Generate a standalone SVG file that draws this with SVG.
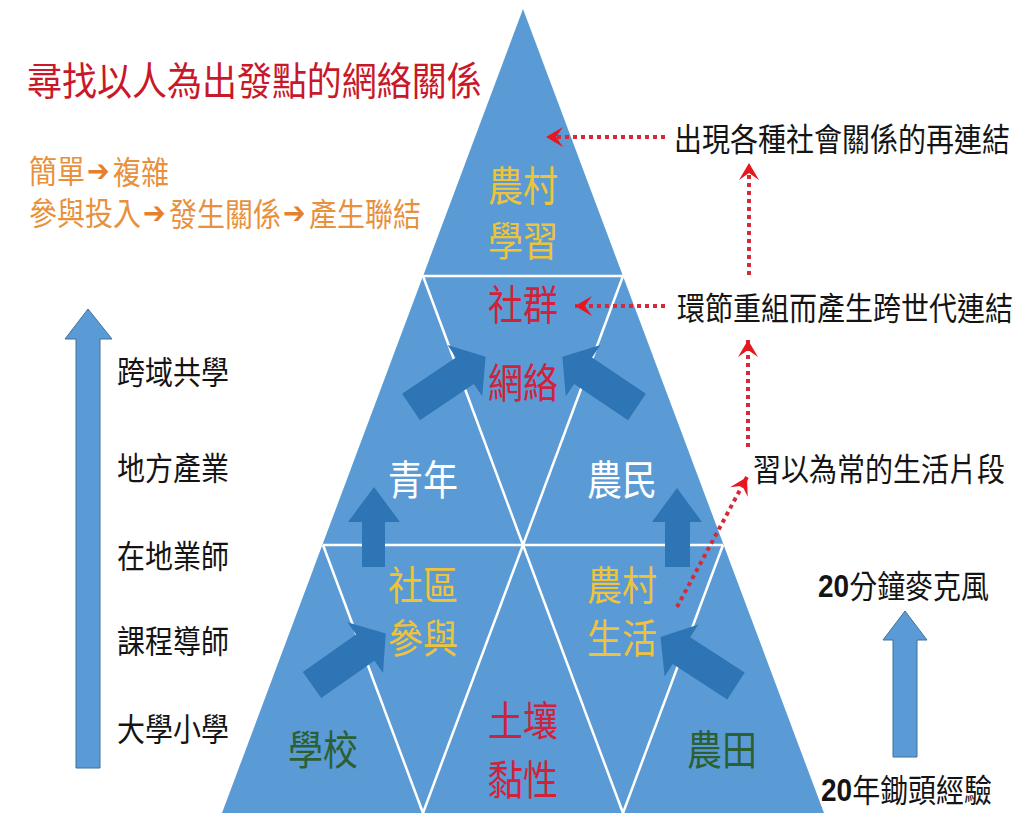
<svg xmlns="http://www.w3.org/2000/svg" xmlns:xlink="http://www.w3.org/1999/xlink" width="1033" height="814" viewBox="0 0 1033 814">
<style>
  text{font-family:"Noto Sans CJK TC","Noto Sans CJK SC",sans-serif;dominant-baseline:central}
  .pt{font-size:35px;text-anchor:middle}
  .lab{font-size:28px;fill:#141414}
  .y{fill:#eec33c}
  .r{fill:#d2213a}
  .w{fill:#ffffff}
  .g{fill:#2c5f32}
  .grid{stroke:#ffffff;stroke-width:2.5;fill:none}
  .blk{fill:#2e75b6}
  .dot{stroke:#d42a3a;stroke-width:4;stroke-dasharray:4 4;fill:none;marker-end:url(#ah)}
  .big{fill:#5b9bd5;stroke:#41719c;stroke-width:1}
  .num{font-family:"Liberation Sans",sans-serif;font-weight:bold}
  .arw{font-family:"DejaVu Sans",sans-serif;fill:#e5802e;font-size:27px}
</style>
<defs>
  <marker id="ah" markerUnits="userSpaceOnUse" markerWidth="24" markerHeight="24" viewBox="-20 -12 24 24" refX="0" refY="0" orient="auto">
    <path d="M0,0 L-17,-10 L-10,0 L-17,10 Z" fill="#e8161e"/>
  </marker>
  <path id="blockArrow" d="M0,-16 H65 V-31 L90,0 L65,31 V16 H0 Z"/>
</defs>
<rect width="1033" height="814" fill="#ffffff"/>

<!-- title and notes -->
<g id="title">
  <text transform="translate(27,78) scale(1,1.12)" font-size="35" fill="#c8182a">尋找以人為出發點的網絡關係</text>
</g>
<g id="notes" font-size="28" fill="#e8903c">
  <text transform="translate(29,170) scale(1,1.12)">簡單<tspan class="arw" x="58">➔</tspan><tspan x="84">複雜</tspan></text>
  <text transform="translate(29,212) scale(1,1.12)">參與投入<tspan class="arw" x="114">➔</tspan><tspan x="140">發生關係</tspan><tspan class="arw" x="254">➔</tspan><tspan x="280">產生聯結</tspan></text>
</g>

<!-- pyramid -->
<g id="pyramid">
  <polygon points="523,9 222,813 824,813" fill="#5b9bd5"/>
  <line class="grid" x1="423" y1="276" x2="623" y2="276"/>
  <line class="grid" x1="323" y1="545" x2="723" y2="545"/>
  <line class="grid" x1="423" y1="276" x2="523" y2="545"/>
  <line class="grid" x1="623" y1="276" x2="523" y2="545"/>
  <line class="grid" x1="323" y1="545" x2="423" y2="813"/>
  <line class="grid" x1="523" y1="545" x2="423" y2="813"/>
  <line class="grid" x1="523" y1="545" x2="623" y2="813"/>
  <line class="grid" x1="723" y1="545" x2="623" y2="813"/>
</g>

<!-- connectors -->
<g id="connectors">
  <use xlink:href="#blockArrow" class="blk" transform="translate(312,685) rotate(-35)"/>
  <use xlink:href="#blockArrow" class="blk" transform="translate(411,407) rotate(-34)"/>
  <use xlink:href="#blockArrow" class="blk" transform="translate(637,407) scale(-1,1) rotate(-34)"/>
  <use xlink:href="#blockArrow" class="blk" transform="translate(736,686) scale(-1,1) rotate(-33)"/>
  <polygon class="blk" points="362,567 362,522 348,522 374,487 400,522 385,522 385,567"/>
  <polygon class="blk" points="665,567 665,522 652,522 677,488 702,522 690,522 690,567"/>
  <line class="dot" x1="665" y1="137" x2="546" y2="137"/>
  <line class="dot" x1="749" y1="275" x2="749" y2="163"/>
  <line class="dot" x1="665" y1="306" x2="575" y2="306"/>
  <line class="dot" x1="748" y1="447" x2="748" y2="340"/>
  <line class="dot" x1="677" y1="607" x2="747" y2="477"/>
</g>

<!-- pyramid nodes -->
<g id="node-rural-learning"><text class="pt y" transform="translate(523,183) scale(1,1.16)">農村</text><text class="pt y" transform="translate(523,238) scale(1,1.16)">學習</text></g>
<g id="node-community-network"><text class="pt r" transform="translate(523,302) scale(1,1.18)">社群</text><text class="pt r" transform="translate(523,380) scale(1,1.18)">網絡</text></g>
<g id="node-youth"><text class="pt w" transform="translate(423,477) scale(1,1.18)">青年</text></g>
<g id="node-farmer"><text class="pt w" transform="translate(622,477) scale(1,1.18)">農民</text></g>
<g id="node-community-participation"><text class="pt y" transform="translate(423,583) scale(1,1.13)">社區</text><text class="pt y" transform="translate(423,636) scale(1,1.13)">參與</text></g>
<g id="node-rural-life"><text class="pt y" transform="translate(622,583) scale(1,1.13)">農村</text><text class="pt y" transform="translate(622,636) scale(1,1.13)">生活</text></g>
<g id="node-school"><text class="pt g" transform="translate(323,747) scale(1,1.18)">學校</text></g>
<g id="node-soil"><text class="pt r" transform="translate(523,718) scale(1,1.18)">土壤</text><text class="pt r" transform="translate(523,777) scale(1,1.18)">黏性</text></g>
<g id="node-farmland"><text class="pt g" transform="translate(722,747) scale(1,1.18)">農田</text></g>

<!-- left scale -->
<g id="left-scale">
  <polygon class="big" points="76,768 76,339 65,339 88,309 112,339 100,339 100,768"/>
  <text class="lab" transform="translate(117,371) scale(1,1.12)">跨域共學</text>
  <text class="lab" transform="translate(117,467) scale(1,1.12)">地方產業</text>
  <text class="lab" transform="translate(117,555) scale(1,1.12)">在地業師</text>
  <text class="lab" transform="translate(117,640) scale(1,1.12)">課程導師</text>
  <text class="lab" transform="translate(117,728) scale(1,1.12)">大學小學</text>
</g>

<!-- right labels -->
<g id="node-reconnect"><text class="lab" transform="translate(674,138) scale(1,1.12)">出現各種社會關係的再連結</text></g>
<g id="node-regroup"><text class="lab" transform="translate(677,307) scale(1,1.12)">環節重組而產生跨世代連結</text></g>
<g id="node-daily"><text class="lab" transform="translate(753,468) scale(1,1.12)">習以為常的生活片段</text></g>
<g id="right-scale">
  <polygon class="big" points="893,757 893,640 883,640 905,611 927,640 917,640 917,757"/>
  <text class="lab" transform="translate(818,585) scale(1,1.12)"><tspan class="num">20</tspan>分鐘麥克風</text>
  <text class="lab" transform="translate(821,789) scale(1,1.12)"><tspan class="num">20</tspan>年鋤頭經驗</text>
</g>
</svg>
